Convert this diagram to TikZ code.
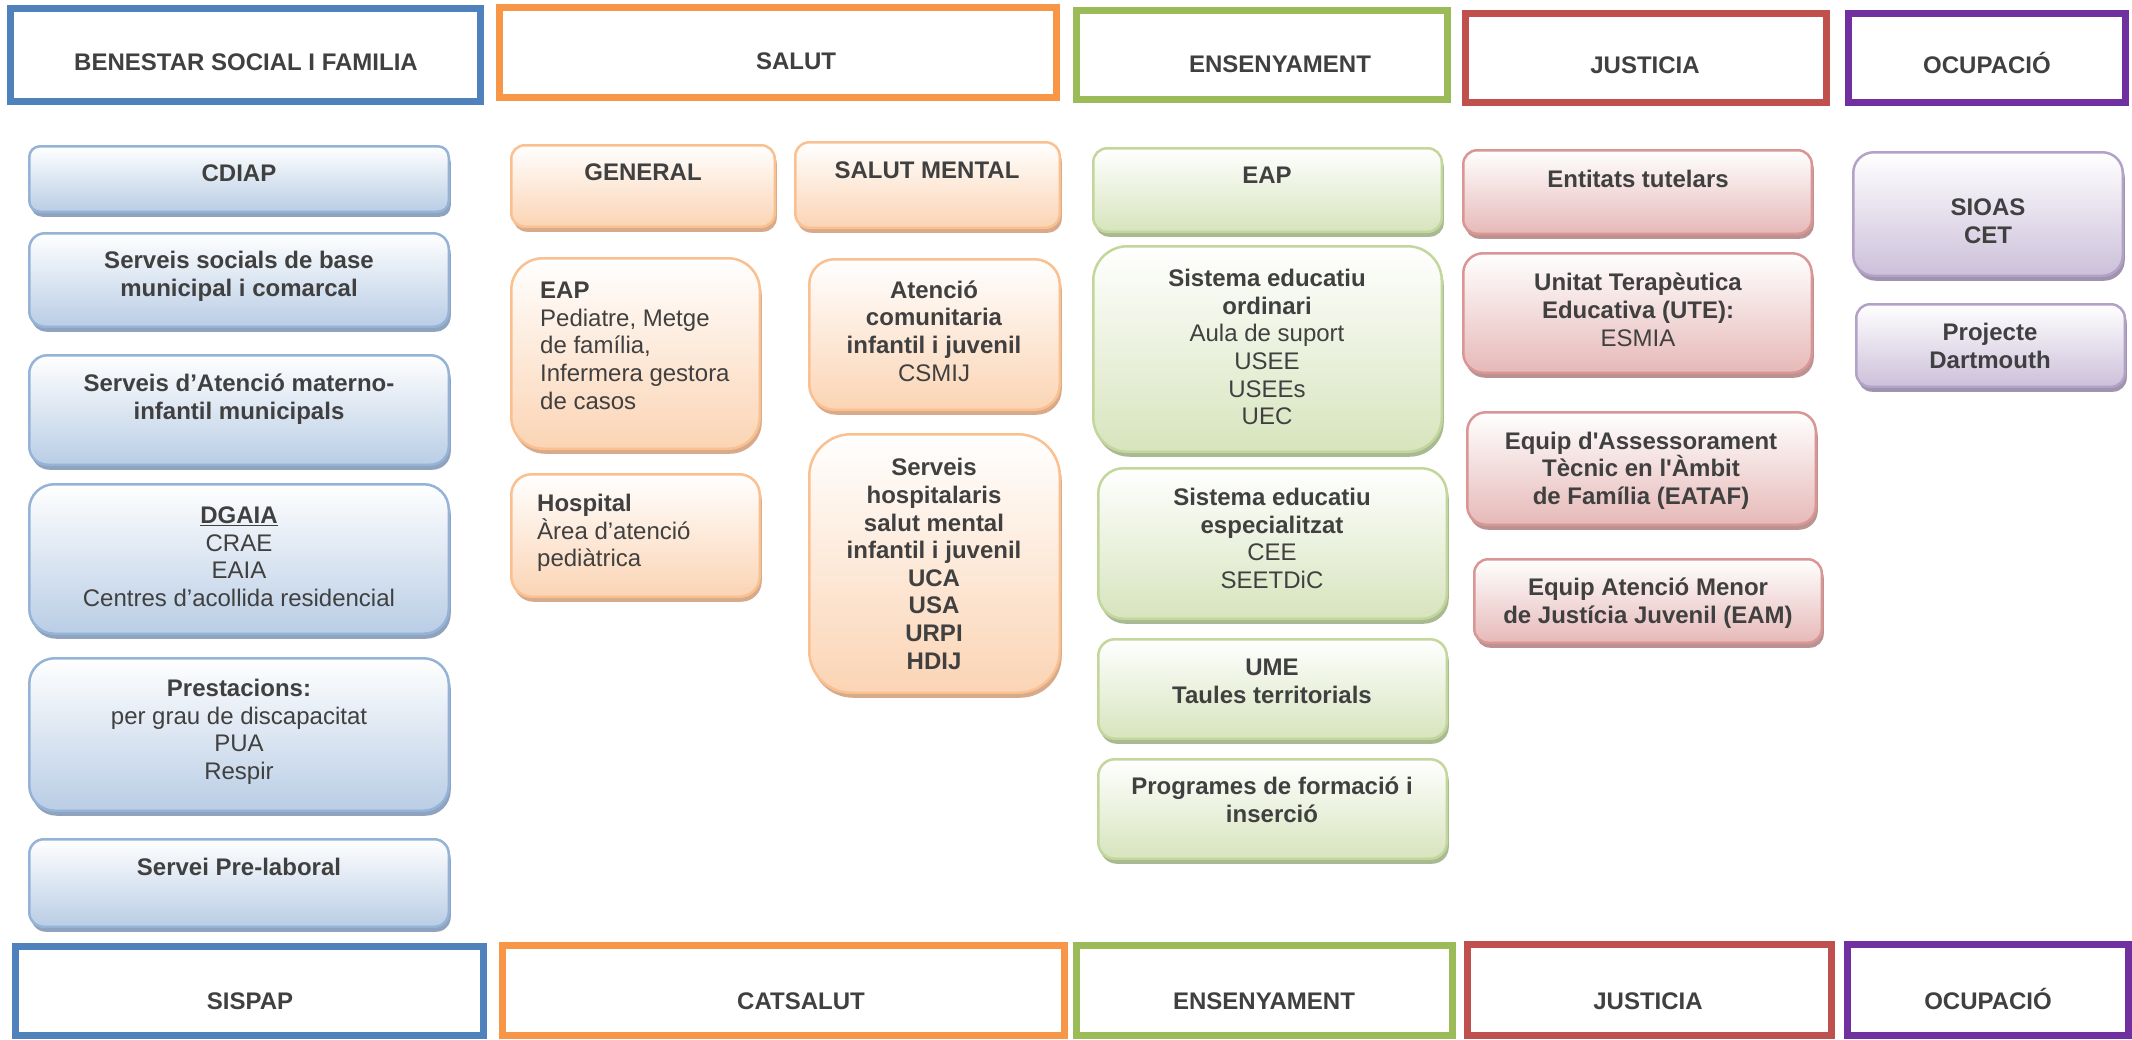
\documentclass[tikz,border=0pt]{standalone}
\usepackage{fontspec}
\setmainfont{Liberation Sans}
\definecolor{txtc}{HTML}{404040}
\definecolor{hblue}{HTML}{4F81BD}
\definecolor{horange}{HTML}{F79646}
\definecolor{hgreen}{HTML}{9BBB59}
\definecolor{hred}{HTML}{C0504D}
\definecolor{hpurple}{HTML}{7030A0}
\definecolor{bluebd}{HTML}{95B3D7}\definecolor{bluefl}{HTML}{B9CDE5}\definecolor{blueshd}{HTML}{8FA2BE}
\definecolor{orabd}{HTML}{FAC090}\definecolor{orafl}{HTML}{FBD4B4}\definecolor{orashd}{HTML}{D6AA8A}
\definecolor{grnbd}{HTML}{C3D69B}\definecolor{grnfl}{HTML}{D7E4BD}\definecolor{grnshd}{HTML}{A9B991}
\definecolor{redbd}{HTML}{D99694}\definecolor{redfl}{HTML}{E6B9B8}\definecolor{redshd}{HTML}{B99291}
\definecolor{purbd}{HTML}{B3A2C7}\definecolor{purfl}{HTML}{CCC0DA}\definecolor{purshd}{HTML}{9F93AE}
\tikzset{
  hdrbox/.style={line width=7pt, fill=white, inner sep=0pt},
  txt/.style={text=txtc, font=\fontsize{24}{27.6}\selectfont\bfseries, inner sep=0pt, align=center, anchor=base},
  txtl/.style={txt, align=left, anchor=base west},
  boxbase/.style={line width=2.5pt, inner sep=0pt},
  bluebox/.style={boxbase, draw=bluebd, top color=white, bottom color=bluefl,
    preaction={fill=blueshd, transform canvas={xshift=2pt,yshift=-5pt}}},
  orabox/.style={boxbase, draw=orabd, top color=white, bottom color=orafl,
    preaction={fill=orashd, transform canvas={xshift=2pt,yshift=-5pt}}},
  grnbox/.style={boxbase, draw=grnbd, top color=white, bottom color=grnfl,
    preaction={fill=grnshd, transform canvas={xshift=2pt,yshift=-5pt}}},
  redbox/.style={boxbase, draw=redbd, top color=white, bottom color=redfl,
    preaction={fill=redshd, transform canvas={xshift=2pt,yshift=-5pt}}},
  purbox/.style={boxbase, draw=purbd, top color=white, bottom color=purfl,
    preaction={fill=purshd, transform canvas={xshift=2pt,yshift=-5pt}}},
}
% rounded box: name, style, x1, x2, y1, y2 (pixel coords)
\newcommand\bx[6]{%
  \pgfmathsetmacro\bw{#4-#3-2.5}\pgfmathsetmacro\bh{#6-#5-2.5}%
  \pgfmathsetmacro\br{min(\bw,\bh)/6}%
  \node[#2, minimum width=\bw pt, minimum height=\bh pt, rounded corners=\br pt] (#1) at ({(#3+#4)/2},{(#5+#6)/2}) {};}
% header box: name, colour, outer x1, x2, y1, y2
\newcommand\hb[6]{%
  \pgfmathsetmacro\bw{#4-#3-7}\pgfmathsetmacro\bh{#6-#5-7}%
  \node[hdrbox, draw=#2, minimum width=\bw pt, minimum height=\bh pt] (#1) at ({(#3+#4)/2},{(#5+#6)/2}) {};}
\begin{document}
\begin{tikzpicture}[x=1pt,y=-1pt]
\useasboundingbox (0,0) rectangle (2132,1039);
\fill[white] (0,0) rectangle (2132,1039);
% headers top
\hb{h1}{hblue}{7}{484}{5}{105}
\hb{h2}{horange}{496}{1060}{4}{101}
\hb{h3}{hgreen}{1073}{1451}{7}{103}
\hb{h4}{hred}{1462}{1830}{10}{106}
\hb{h5}{hpurple}{1845}{2129}{10}{106}
\node[txt] (h1t) at (246,70.6) {BENESTAR SOCIAL I FAMILIA};
\node[txt] (h2t) at (796,69.6) {SALUT};
\node[txt] (h3t) at (1280,72.6) {ENSENYAMENT};
\node[txt] (h4t) at (1645,73.6) {JUSTICIA};
\node[txt] (h5t) at (1987,73.6) {OCUPACIÓ};
% headers bottom
\hb{f1}{hblue}{12}{487}{943}{1039}
\hb{f2}{horange}{499}{1068}{942}{1039}
\hb{f3}{hgreen}{1073}{1456}{942}{1039}
\hb{f4}{hred}{1464}{1835}{941}{1039}
\hb{f5}{hpurple}{1844}{2132}{941}{1039}
\node[txt] (f1t) at (250,1009.6) {SISPAP};
\node[txt] (f2t) at (801,1009.6) {CATSALUT};
\node[txt] (f3t) at (1264,1009.6) {ENSENYAMENT};
\node[txt] (f4t) at (1648,1009.6) {JUSTICIA};
\node[txt] (f5t) at (1988,1009.6) {OCUPACIÓ};
% blue column (text nodes anchored at the baseline of their last line)
\bx{b1}{bluebox}{28}{450}{145}{213}
\bx{b2}{bluebox}{28}{450}{232}{328}
\bx{b3}{bluebox}{28}{450}{354}{466}
\bx{b4}{bluebox}{28}{450}{483}{635}
\bx{b5}{bluebox}{28}{450}{657}{812}
\bx{b6}{bluebox}{28}{450}{838}{928}
\node[txt] (b1t) at (239,181.6) {CDIAP};
\node[txt] (b2t) at (239,296.2) {Serveis socials de base\\municipal i comarcal};
\node[txt] (b3t) at (239,419.2) {Serveis d’Atenció materno-\\infantil municipals};
\node[txt] (b4t) at (239,606.4) {\underline{DGAIA}\\\mdseries CRAE\\\mdseries EAIA\\\mdseries Centres d’acollida residencial};
\node[txt] (b5t) at (239,779.4) {Prestacions:\\\mdseries per grau de discapacitat\\\mdseries PUA\\\mdseries Respir};
\node[txt] (b6t) at (239,875.6) {Servei Pre-laboral};
% orange column
\bx{o1}{orabox}{510}{776}{144}{228}
\bx{o2}{orabox}{794}{1061}{141}{229}
\bx{o3}{orabox}{510}{761}{257}{450}
\bx{o4}{orabox}{510}{761}{473}{598}
\bx{o5}{orabox}{808}{1061}{258}{411}
\bx{o6}{orabox}{808}{1061}{433}{694}
\node[txt] (o1t) at (643,180.6) {GENERAL};
\node[txt] (o2t) at (927,178.6) {SALUT MENTAL};
\node[txtl] (o3t) at (540,409) {EAP\\\mdseries Pediatre, Metge\\\mdseries de família,\\\mdseries Infermera gestora\\\mdseries de casos};
\node[txtl] (o4t) at (537,566.8) {Hospital\\\mdseries Àrea d’atenció\\\mdseries pediàtrica};
\node[txt] (o5t) at (934,381) {Atenció\\comunitaria\\infantil i juvenil\\\mdseries CSMIJ};
\node[txt] (o6t) at (934,669) {Serveis\\hospitalaris\\salut mental\\infantil i juvenil\\UCA\\USA\\URPI\\HDIJ};
% green column
\bx{g1}{grnbox}{1092}{1443}{147}{233}
\bx{g2}{grnbox}{1092}{1443}{245}{453}
\bx{g3}{grnbox}{1097}{1448}{467}{620}
\bx{g4}{grnbox}{1097}{1448}{638}{740}
\bx{g5}{grnbox}{1097}{1448}{758}{860}
\node[txt] (g1t) at (1267,183.6) {EAP};
\node[txt] (g2t) at (1267,424.6) {Sistema educatiu\\ordinari\\\mdseries Aula de suport\\\mdseries USEE\\\mdseries USEEs\\\mdseries UEC};
\node[txt] (g3t) at (1272,588.4) {Sistema educatiu\\especialitzat\\\mdseries CEE\\\mdseries SEETDiC};
\node[txt] (g4t) at (1272,703) {UME\\Taules territorials};
\node[txt] (g5t) at (1272,822) {Programes de formació i\\inserció};
% red column
\bx{r1}{redbox}{1462}{1813}{149}{235}
\bx{r2}{redbox}{1462}{1813}{252}{374}
\bx{r3}{redbox}{1466}{1817}{411}{526}
\bx{r4}{redbox}{1473}{1823}{558}{644}
\node[txt] (r1t) at (1638,187.6) {Entitats tutelars};
\node[txt] (r2t) at (1638,346) {Unitat Terapèutica\\Educativa (UTE):\\\mdseries ESMIA};
\node[txt] (r3t) at (1641,504.5) {Equip d\textquotesingle Assessorament\\Tècnic en l\textquotesingle Àmbit\\de Família (EATAF)};
\node[txt] (r4t) at (1648,623) {Equip Atenció Menor\\de Justícia Juvenil (EAM)};
% purple column
\bx{p1}{purbox}{1852}{2124}{151}{277}
\bx{p2}{purbox}{1855}{2126}{303}{388}
\node[txt] (p1t) at (1988,243) {SIOAS\\CET};
\node[txt] (p2t) at (1990,368) {Projecte\\Dartmouth};
\end{tikzpicture}
\end{document}
